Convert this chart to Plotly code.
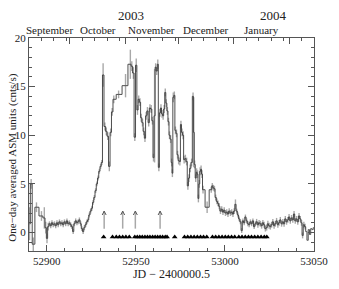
import plotly.graph_objects as go

# ---------------- data ----------------
mjd = [52890.3, 52891.2, 52892.4, 52894.2, 52897.0, 52898.6, 52899.4, 52900.1, 52900.8,
       52901.5, 52902.2, 52902.9, 52903.6, 52904.3, 52905.0, 52905.7, 52906.4, 52907.1, 52907.8,
       52908.5, 52909.2, 52909.9, 52910.6, 52911.3, 52912.0, 52912.7, 52913.4, 52914.1, 52914.8,
       52915.5, 52916.2, 52916.9, 52917.6, 52918.3, 52919.0, 52919.7, 52920.4, 52921.1, 52921.8,
       52922.5, 52923.2, 52923.9, 52924.6, 52925.3, 52926.0, 52926.7, 52927.4, 52928.1, 52928.8,
       52929.5, 52930.2, 52930.9,
       52931.6, 52932.6, 52933.4, 52934.2, 52935.1, 52935.9, 52936.7, 52937.6, 52940.3, 52944.2,
       52946.9, 52947.7, 52948.6, 52949.4, 52950.2, 52950.9, 52951.6, 52952.3, 52953.0, 52953.7,
       52954.4, 52955.1, 52955.8, 52956.5, 52957.2, 52957.9, 52958.6, 52959.3, 52959.9, 52960.5,
       52961.1, 52961.7, 52962.3, 52962.9, 52963.5, 52964.1, 52964.7, 52965.3, 52965.9, 52966.5,
       52967.1, 52967.7, 52968.3, 52968.9, 52969.5, 52970.1, 52970.5, 52971.0, 52971.6, 52972.2,
       52972.8, 52973.4, 52974.0, 52974.7, 52975.3, 52975.9, 52976.5, 52977.1, 52977.8, 52978.5,
       52979.2, 52979.8, 52980.5, 52981.3, 52982.1, 52982.5, 52983.0, 52983.6, 52984.1, 52984.6,
       52985.1, 52985.6, 52986.1, 52986.6, 52987.1, 52987.7, 52990.0,
       52992.3, 52992.9, 52993.5, 52994.1, 52994.8, 52995.5, 52996.1, 52996.8, 52997.5, 52998.2,
       52998.9, 52999.6, 53000.3, 53001.0, 53001.7, 53002.4, 53003.1, 53003.8, 53004.5, 53005.2,
       53005.9, 53006.6, 53007.3, 53008.0, 53008.7, 53009.4, 53010.1, 53010.8, 53011.5, 53012.2,
       53012.9, 53013.6, 53014.3, 53015.0, 53015.7, 53016.4, 53017.1, 53017.8, 53018.5, 53019.2,
       53019.9, 53020.6, 53021.3, 53022.0, 53022.7, 53023.4, 53024.1, 53024.8, 53025.5, 53026.2,
       53026.9, 53027.6, 53028.3, 53029.0, 53029.7, 53030.4, 53031.1, 53031.8, 53032.5, 53033.2,
       53033.9, 53034.6, 53035.3, 53036.0, 53036.7, 53037.4, 53038.1, 53038.8, 53039.5, 53040.2,
       53040.9, 53041.6, 53042.3, 53043.0, 53043.6, 53044.3, 53045.0, 53045.7, 53046.4, 53047.1,
       53047.8, 53048.5, 53049.2, 53049.9]

rate = [0.9, 5.0, -1.2, 2.6, 1.7, 1.5, 0.5, -0.6, 0.6,
        0.9, 0.7, 1.0, 0.8, 0.9, 0.7, 1.0, 0.8, 1.1, 0.9,
        1.0, 0.8, 1.1, 0.9, 1.2, 0.9, 1.0, 0.8, 0.6, 0.1,
        0.9, 1.2, 1.0, 1.1, 1.3, 0.9, 0.4, 0.1, 0.5, 0.8,
        1.1, 1.3, 1.8, 2.2, 2.5, 3.1, 3.6, 4.3, 5.0, 5.6,
        6.3, 6.8, 7.2,
        16.2, 10.9, 10.4, 9.9, 6.8, 10.3, 12.4, 13.7, 14.2, 15.1,
        17.3, 17.1, 16.4, 9.8, 17.2, 12.6, 13.7, 13.4, 11.8, 11.3,
        10.4, 9.7, 12.0, 12.5, 11.3, 12.8, 12.7, 11.5, 7.7, 12.0,
        17.0, 16.6, 17.3, 6.7, 12.3, 12.8, 12.2, 12.0, 12.7, 14.4,
        13.3, 12.5, 11.4, 10.0, 9.6, 7.2, 6.1, 13.9, 14.1, 10.5,
        10.2, 8.0, 7.4, 7.3, 11.1, 10.3, 10.0, 7.5, 7.6, 7.3,
        4.8, 5.6, 6.6, 7.2, 14.0, 10.3, 7.0, 5.6, 6.2, 6.0,
        3.5, 5.0, 6.3, 6.5, 6.0, 4.4, 2.6,
        4.4, 4.8, 4.6, 4.5, 3.6, 3.2, 3.0, 2.7, 2.2, 2.4,
        2.1, 2.3, 2.0, 2.1, 1.9, 2.2, 2.0, 2.1, 1.9, 2.2,
        2.9, 2.2, 1.8, 1.4, 1.1, 0.2, 1.2, 1.0, 1.6, 1.2,
        0.9, 0.8, 1.1, 0.9, 1.2, 0.6, 0.9, 1.1, 0.8, 1.0,
        0.9, 0.7, 1.0, 0.8, 0.4, 0.5, 0.9, 0.7, 0.6, 0.8,
        1.1, 0.7, 0.9, 1.2, 0.8, 1.0, 1.3, 0.9, 1.1, 0.9,
        1.4, 1.1, 1.3, 1.6, 1.2, 1.5, 1.3, 1.9, 1.2, 1.4,
        1.1, 1.7, 1.4, 1.0, -0.3, 0.8, 0.6, 0.1, -0.8, 0.3,
        -0.2, 0.4, 0.3, 0.5]

err = [1.7, 0.5, 0.7, 0.5, 0.5, 1.1, 0.6, 0.5, 0.4] + [0.25] * 43 + \
      [1.2, 0.4, 0.4, 0.4, 0.5, 0.4, 0.4, 0.4, 0.4, 1.2,
       1.5, 0.5, 0.6, 0.4, 0.7, 0.5, 0.4, 0.4, 0.4, 0.4,
       0.4, 0.4, 0.4, 0.4, 0.4, 0.4, 0.4, 0.4, 0.4, 4.8,
       0.4, 0.4, 0.5, 0.4, 0.4, 0.4, 0.4, 0.4, 0.4, 0.4,
       0.4, 0.4, 0.4, 0.4, 0.4, 0.4, 0.4, 0.5, 0.4, 0.4,
       0.4, 0.4, 0.4, 0.4, 0.4, 0.4, 0.4, 0.4, 0.4, 0.4,
       0.4, 0.4, 0.4, 0.4, 0.4, 3.6, 0.4, 0.4, 0.4, 0.4,
       0.4, 0.4, 0.4, 0.4, 0.4, 0.4, 0.6] + \
      [0.3] * 20 + [0.5] + [0.25] * 16 + [0.3] * 40

obs_days = [52931.9, 52936.9, 52939.0, 52940.8, 52942.6, 52944.4, 52946.3,
            52949.4, 52950.8, 52952.2, 52953.6, 52955.1, 52956.5, 52957.9, 52959.4,
            52960.8, 52962.2, 52963.6, 52965.0, 52966.5, 52967.5, 52971.8,
            52977.3, 52979.1, 52980.9, 52982.7, 52984.5, 52986.3, 52988.0, 52989.8,
            52993.0, 52994.8, 52996.6, 52998.4, 53000.2, 53001.9, 53003.7, 53005.5,
            53007.8, 53009.6, 53011.4, 53013.2, 53014.9, 53016.7, 53018.5, 53020.3,
            53022.1, 53023.5]
obs_level = -0.45

arrow_days = [52932.2, 52942.6, 52949.7, 52963.6]
arrow_base, arrow_tip = 0.4, 2.2

month_starts = [52883, 52913, 52944, 52974, 53005, 53036]
month_names = ["September", "October", "November", "December", "January"]
minor_days = [7, 14, 21, 28]
year_break = 53005
year_names = ["2003", "2004"]

x_range = [52890, 53050]
y_range = [-1.9, 20]
x_major = [52900, 52950, 53000, 53050]

FONT = "Liberation Serif"
INK = "#222222"

fig = go.Figure()

# grey error bars (drawn first, beneath the line)
fig.add_trace(go.Scatter(
    x=mjd, y=rate, mode="markers", marker=dict(size=1, opacity=0),
    error_y=dict(type="data", array=err, visible=True, color="#a8a8a8", thickness=1.4, width=0),
    hoverinfo="skip", showlegend=False))

# light curve (histogram style)
fig.add_trace(go.Scatter(
    x=mjd, y=rate, mode="lines", line=dict(color="#3a3a3a", width=0.9, shape="hvh"),
    hoverinfo="skip", showlegend=False))

# observation markers
fig.add_trace(go.Scatter(
    x=obs_days, y=[obs_level] * len(obs_days), mode="markers",
    marker=dict(symbol="triangle-up", size=5, color="black", line=dict(width=0)),
    hoverinfo="skip", showlegend=False))

# arrows: shafts and heads built from arrow_days
sx, sy, hx, hy = [], [], [], []
for d in arrow_days:
    sx += [d, d, None]
    sy += [arrow_base, arrow_tip, None]
    hx += [d - 1.1, d, d + 1.1, None]
    hy += [arrow_tip - 0.4, arrow_tip, arrow_tip - 0.4, None]
fig.add_trace(go.Scatter(x=sx, y=sy, mode="lines", line=dict(color="#a8a8a8", width=1.5),
                         hoverinfo="skip", showlegend=False))
fig.add_trace(go.Scatter(x=hx, y=hy, mode="lines", line=dict(color="#555555", width=1),
                         hoverinfo="skip", showlegend=False))

# invisible trace to activate top axis
fig.add_trace(go.Scatter(x=mjd[:1], y=rate[:1], xaxis="x2", mode="markers",
                         marker=dict(opacity=0), hoverinfo="skip", showlegend=False))

# top axis minor ticks (weekly) and month labels
top_minor = [m + d for m in month_starts for d in minor_days if x_range[0] <= m + d <= x_range[1]]
ann = []
for i, name in enumerate(month_names):
    a = max(month_starts[i], x_range[0])
    b = min(month_starts[i + 1], x_range[1])
    ann.append(dict(x=(a + b) / 2, y=1.037, xref="x", yref="paper", text=name, showarrow=False,
                    font=dict(family=FONT, size=11, color=INK), yanchor="middle"))
ann.append(dict(x=(x_range[0] + year_break) / 2, y=1.107, xref="x", yref="paper", text=year_names[0],
                showarrow=False, font=dict(family=FONT, size=13, color=INK), yanchor="middle"))
ann.append(dict(x=(year_break + x_range[1]) / 2, y=1.107, xref="x", yref="paper", text=year_names[1],
                showarrow=False, font=dict(family=FONT, size=13, color=INK), yanchor="middle"))
ann.append(dict(x=-0.058, y=0.44, xref="paper", yref="paper", text="One\u2212day averaged ASM units (cnts/s)",
                textangle=-90, showarrow=False, font=dict(family=FONT, size=11, color=INK),
                xanchor="center", yanchor="middle"))

fig.update_layout(
    width=339, height=289,
    margin=dict(l=29, r=11, t=38, b=28),
    paper_bgcolor="white", plot_bgcolor="white",
    font=dict(family=FONT, size=11, color=INK),
    annotations=ann,
    xaxis=dict(range=x_range, tickvals=x_major, tickformat="d", ticks="inside", ticklen=6, tickcolor="#555",
               showline=True, linecolor="#555", linewidth=1, showgrid=False, zeroline=False,
               ticklabeloverflow="allow", tickfont=dict(size=11),
               minor=dict(ticks="inside", dtick=10, tick0=52890, ticklen=3, tickcolor="#555"),
               title=dict(text="JD \u2212 2400000.5", font=dict(size=12), standoff=2)),
    xaxis2=dict(range=x_range, overlaying="x", side="top", tickvals=month_starts, showticklabels=False,
                ticks="inside", ticklen=6, tickcolor="#555", showline=True, linecolor="#555",
                linewidth=1, showgrid=False, zeroline=False,
                minor=dict(ticks="inside", tickvals=top_minor, ticklen=3, tickcolor="#555")),
    yaxis=dict(range=y_range, tickvals=[0, 5, 10, 15, 20], ticks="inside", ticklen=6, tickcolor="#555",
               showline=True, linecolor="#555", linewidth=1, mirror="ticks", showgrid=False,
               zeroline=False, tickfont=dict(size=11),
               minor=dict(ticks="inside", dtick=1, tick0=0, ticklen=3, tickcolor="#555")),
)

fig.write_html("out.html")
